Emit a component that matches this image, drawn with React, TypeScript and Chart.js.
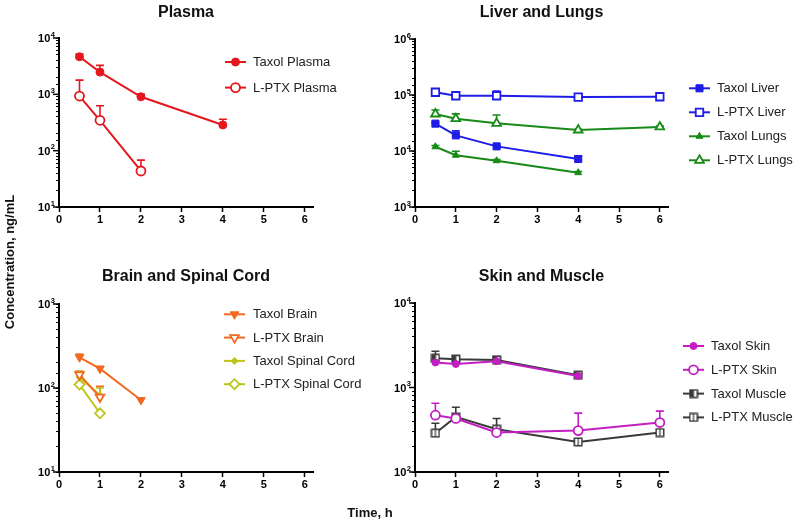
import React, { useEffect, useRef } from 'react';
import { Chart, registerables } from 'chart.js';
import { drawPoint } from 'chart.js/helpers';

Chart.register(...registerables);

const FONT = "'Liberation Sans', Arial, Helvetica, sans-serif";

// ---------- data ----------
const timesAll = [0.5, 1, 2, 4, 6];
const times4 = [0.5, 1, 2, 4];
const times3 = [0.5, 1, 2];
const times2 = [0.5, 1];

const xTicks = [0, 1, 2, 3, 4, 5, 6];
const decadeBase = '10';
const decadeExponents = ['0', '1', '2', '3', '4', '5', '6'];

// Plasma
const taxolPlasma = [4640, 2480, 906, 286];
const taxolPlasmaErr = [5180, 3270, 1010, 361];
const lptxPlasma = [933, 346, 43.6];
const lptxPlasmaErr = [1790, 628, 68];

// Liver and Lungs
const taxolLiver = [30800, 19000, 12100, 7200];
const taxolLiverErr = [32000, 23000, 12800, 8100];
const lptxLiver = [112000, 97000, 97000, 92000, 93000];
const lptxLiverErr = [115000, 100000, 118000, 95000, 96000];
const taxolLungs = [11900, 8400, 6700, 4100];
const taxolLungsErr = [12500, 9900, 7000, 4300];
const lptxLungs = [45800, 37700, 31200, 23700, 26900];
const lptxLungsErr = [54000, 46000, 44000, 24500, 28000];

// Brain and Spinal Cord
const taxolBrain = [232, 170, 72];
const taxolBrainErr = [254, 180, 75];
const lptxBrain = [144, 78];
const lptxBrainErr = [158, 105];
const taxolSpinal = [135, 82];
const taxolSpinalErr = [158, 100];
const lptxSpinal = [110, 50];
const lptxSpinalErr = [115, 52];

// Skin and Muscle
const taxolSkin = [1980, 1900, 2050, 1370];
const taxolSkinErr = [2100, 2000, 2330, 1450];
const lptxSkin = [470, 430, 293, 309, 385];
const lptxSkinErr = [652, 450, 340, 497, 525];
const taxolMuscle = [2220, 2160, 2120, 1400];
const taxolMuscleErr = [2690, 2350, 2300, 1500];
const lptxMuscle = [288, 449, 321, 227, 293];
const lptxMuscleErr = [378, 585, 430, 235, 300];

// ---------- styles ----------
const RED = '#e4171d';
const BLUE = '#1d1de6';
const GREEN = '#178a17';
const ORANGE = '#f26a21';
const YGREEN = '#bcc417';
const MAGENTA = '#c21ec2';
const GRAY = '#3a3a3a';

function makeSquareImage(color: string, half: boolean): HTMLCanvasElement {
  const c = document.createElement('canvas');
  c.width = 10;
  c.height = 10;
  const g = c.getContext('2d')!;
  g.fillStyle = '#fff';
  g.fillRect(1, 1, 8, 8);
  g.fillStyle = color;
  if (half) g.fillRect(1, 1, 4.5, 8);
  else g.fillRect(4.4, 1, 1.2, 8);
  g.strokeStyle = color;
  g.lineWidth = 1.5;
  g.strokeRect(1.25, 1.25, 7.5, 7.5);
  return c;
}

interface Series {
  label: string;
  times: number[];
  values: number[];
  errors: number[];
  color: string;
  pointStyle: any;
  filled: boolean;
  radius: number;
  rotation?: number;
}

interface Panel {
  title: string;
  titleY: number;
  yMin: number;
  yMax: number;
  area: { left: number; top: number; right: number; bottom: number };
  legend: { x: number; y: number; gap: number; textX: number };
  series: () => Series[];
}

const panels: Panel[] = [
  {
    title: 'Plasma',
    titleY: 13,
    yMin: 10,
    yMax: 1e4,
    area: { left: 59, top: 38, right: 313, bottom: 207 },
    legend: { x: 225, y: 62, gap: 25.6, textX: 253 },
    series: () => [
      { label: 'Taxol Plasma', times: times4, values: taxolPlasma, errors: taxolPlasmaErr, color: RED, pointStyle: 'circle', filled: true, radius: 4 },
      { label: 'L-PTX Plasma', times: times3, values: lptxPlasma, errors: lptxPlasmaErr, color: RED, pointStyle: 'circle', filled: false, radius: 4.5 },
    ],
  },
  {
    title: 'Liver and Lungs',
    titleY: 13,
    yMin: 1e3,
    yMax: 1e6,
    area: { left: 415, top: 39, right: 668, bottom: 207 },
    legend: { x: 689, y: 88.3, gap: 24, textX: 717 },
    series: () => [
      { label: 'Taxol Liver', times: times4, values: taxolLiver, errors: taxolLiverErr, color: BLUE, pointStyle: 'rect', filled: true, radius: 5 },
      { label: 'L-PTX Liver', times: timesAll, values: lptxLiver, errors: lptxLiverErr, color: BLUE, pointStyle: 'rect', filled: false, radius: 5.3 },
      { label: 'Taxol Lungs', times: times4, values: taxolLungs, errors: taxolLungsErr, color: GREEN, pointStyle: 'triangle', filled: true, radius: 4 },
      { label: 'L-PTX Lungs', times: timesAll, values: lptxLungs, errors: lptxLungsErr, color: GREEN, pointStyle: 'triangle', filled: false, radius: 5 },
    ],
  },
  {
    title: 'Brain and Spinal Cord',
    titleY: 277,
    yMin: 10,
    yMax: 1e3,
    area: { left: 59, top: 304, right: 313, bottom: 472 },
    legend: { x: 224, y: 314.3, gap: 23.3, textX: 253 },
    series: () => [
      { label: 'Taxol Brain', times: times3, values: taxolBrain, errors: taxolBrainErr, color: ORANGE, pointStyle: 'triangle', filled: true, radius: 5, rotation: 180 },
      { label: 'L-PTX Brain', times: times2, values: lptxBrain, errors: lptxBrainErr, color: ORANGE, pointStyle: 'triangle', filled: false, radius: 5, rotation: 180 },
      { label: 'Taxol Spinal Cord', times: times2, values: taxolSpinal, errors: taxolSpinalErr, color: YGREEN, pointStyle: 'rectRot', filled: true, radius: 3.5 },
      { label: 'L-PTX Spinal Cord', times: times2, values: lptxSpinal, errors: lptxSpinalErr, color: YGREEN, pointStyle: 'rectRot', filled: false, radius: 5 },
    ],
  },
  {
    title: 'Skin and Muscle',
    titleY: 277,
    yMin: 100,
    yMax: 1e4,
    area: { left: 415, top: 303, right: 668, bottom: 472 },
    legend: { x: 683, y: 346, gap: 23.8, textX: 711 },
    series: () => [
      { label: 'Taxol Skin', times: times4, values: taxolSkin, errors: taxolSkinErr, color: MAGENTA, pointStyle: 'circle', filled: true, radius: 3.5 },
      { label: 'L-PTX Skin', times: timesAll, values: lptxSkin, errors: lptxSkinErr, color: MAGENTA, pointStyle: 'circle', filled: false, radius: 4.5 },
      { label: 'Taxol Muscle', times: times4, values: taxolMuscle, errors: taxolMuscleErr, color: GRAY, pointStyle: makeSquareImage(GRAY, true), filled: true, radius: 5 },
      { label: 'L-PTX Muscle', times: timesAll, values: lptxMuscle, errors: lptxMuscleErr, color: GRAY, pointStyle: makeSquareImage(GRAY, false), filled: false, radius: 5 },
    ],
  },
];

const Y_W = 40;
const X_H = 30;

function isDecade(v: number) {
  const e = Math.log10(v);
  return Math.abs(e - Math.round(e)) < 1e-9;
}

const decorPlugin = {
  id: 'panelDecor',
  beforeDatasetsDraw(chart: any) {
    const ctx = chart.ctx;
    const yScale = chart.scales.y;
    chart.data.datasets.forEach((ds: any, di: number) => {
      const meta = chart.getDatasetMeta(di);
      const errs: number[] = ds.errorUpper || [];
      ctx.save();
      ctx.strokeStyle = ds.borderColor;
      ctx.lineWidth = 1.6;
      meta.data.forEach((el: any, j: number) => {
        if (errs[j] == null) return;
        const yTop = yScale.getPixelForValue(errs[j]);
        ctx.beginPath();
        ctx.moveTo(el.x, el.y);
        ctx.lineTo(el.x, yTop);
        ctx.moveTo(el.x - 4, yTop);
        ctx.lineTo(el.x + 4, yTop);
        ctx.stroke();
      });
      ctx.restore();
    });
  },
  afterDraw(chart: any, _args: any, opts: any) {
    const ctx = chart.ctx;
    const area = chart.chartArea;
    const yScale = chart.scales.y;
    ctx.save();
    // major y ticks (longer) and their labels with superscript exponent
    ctx.strokeStyle = '#000';
    ctx.lineWidth = 1.5;
    yScale.ticks.forEach((t: any) => {
      if (!isDecade(t.value)) return;
      const py = yScale.getPixelForValue(t.value);
      ctx.beginPath();
      ctx.moveTo(area.left - 1, py);
      ctx.lineTo(area.left - 6, py);
      ctx.stroke();
      const exp = decadeExponents[Math.round(Math.log10(t.value))];
      const right = area.left - 4;
      ctx.fillStyle = '#000';
      ctx.textAlign = 'right';
      ctx.textBaseline = 'middle';
      ctx.font = `bold 7.5px ${FONT}`;
      const ew = ctx.measureText(exp).width;
      ctx.fillText(exp, right, py - 3.5);
      ctx.font = `bold 11px ${FONT}`;
      ctx.fillText(decadeBase, right - ew - 0.5, py + 1);
    });
    // title
    ctx.fillStyle = '#111';
    ctx.font = `bold 16px ${FONT}`;
    ctx.textAlign = 'center';
    ctx.textBaseline = 'middle';
    ctx.fillText(opts.title, (area.left + area.right) / 2, opts.titleY);
    // legend
    const lg = opts.legend;
    chart.data.datasets.forEach((ds: any, di: number) => {
      const y = lg.y + di * lg.gap;
      const meta = chart.getDatasetMeta(di);
      const el = meta.data[0];
      const o = el.options;
      ctx.strokeStyle = ds.borderColor;
      ctx.lineWidth = ds.borderWidth;
      ctx.beginPath();
      ctx.moveTo(lg.x, y);
      ctx.lineTo(lg.x + 21, y);
      ctx.stroke();
      ctx.fillStyle = o.backgroundColor;
      ctx.strokeStyle = o.borderColor;
      ctx.lineWidth = o.borderWidth;
      drawPoint(ctx, { pointStyle: o.pointStyle, rotation: o.rotation, radius: o.radius, borderWidth: o.borderWidth } as any, lg.x + 10.5, y);
      ctx.fillStyle = '#222';
      ctx.font = `13px ${FONT}`;
      ctx.textAlign = 'left';
      ctx.textBaseline = 'middle';
      ctx.fillText(ds.label, lg.textX, y + 0.5);
    });
    ctx.restore();
  },
};

function buildConfig(p: Panel): any {
  const series = p.series();
  return {
    type: 'line',
    data: {
      datasets: series.map((s) => ({
        label: s.label,
        data: s.times.map((t, i) => ({ x: t, y: s.values[i] })),
        errorUpper: s.errors,
        borderColor: s.color,
        backgroundColor: s.filled ? s.color : '#ffffff',
        borderWidth: 2,
        pointStyle: s.pointStyle,
        pointRadius: s.radius,
        pointRotation: s.rotation || 0,
        pointBorderColor: s.color,
        pointBackgroundColor: s.filled ? s.color : '#ffffff',
        pointBorderWidth: s.filled ? 1 : 1.8,
        tension: 0,
        fill: false,
        clip: false,
      })),
    },
    options: {
      responsive: false,
      animation: false,
      layout: {
        padding: {
          left: p.area.left - Y_W,
          top: p.area.top,
          right: 800 - p.area.right,
          bottom: 522 - p.area.bottom - X_H,
        },
      },
      plugins: {
        legend: { display: false },
        title: { display: false },
        tooltip: { enabled: false },
        panelDecor: { title: p.title, titleY: p.titleY, legend: p.legend },
      },
      scales: {
        x: {
          type: 'linear',
          min: xTicks[0],
          max: 6.2,
          afterFit: (s: any) => { s.height = X_H; },
          afterBuildTicks: (s: any) => { s.ticks = xTicks.map((v) => ({ value: v })); },
          ticks: {
            stepSize: 1,
            includeBounds: false,
            maxRotation: 0,
            autoSkip: false,
            padding: 1,
            color: '#000',
            font: { family: FONT, size: 11, weight: 'bold' },
          },
          grid: {
            display: true,
            drawOnChartArea: false,
            drawTicks: true,
            tickLength: 5,
            tickColor: '#000',
            tickWidth: 1.5,
          },
          border: { display: true, color: '#000', width: 2 },
        },
        y: {
          type: 'logarithmic',
          min: p.yMin,
          max: p.yMax,
          afterFit: (s: any) => { s.width = Y_W; },
          ticks: {
            autoSkip: false,
            padding: 2,
            color: '#000',
            font: { family: FONT, size: 11, weight: 'bold' },
            callback: () => '',
          },
          grid: {
            display: true,
            drawOnChartArea: false,
            drawTicks: true,
            tickLength: 3,
            tickColor: '#000',
            tickWidth: 1.2,
          },
          border: { display: true, color: '#000', width: 2 },
        },
      },
    },
    plugins: [decorPlugin],
  };
}

export default function App() {
  const refs = useRef<(HTMLCanvasElement | null)[]>([]);
  useEffect(() => {
    const charts = panels.map((p, i) => new Chart(refs.current[i] as HTMLCanvasElement, buildConfig(p)));
    return () => charts.forEach((c) => c.destroy());
  }, []);
  return (
    <div style={{ position: 'absolute', left: 0, top: 0, width: 800, height: 522, background: '#fff', overflow: 'hidden' }}>
      {panels.map((p, i) => (
        <canvas
          key={p.title}
          ref={(el) => { refs.current[i] = el; }}
          width={800}
          height={522}
          style={{ position: 'absolute', left: 0, top: 0, width: 800, height: 522 }}
        />
      ))}
      <div
        style={{
          position: 'absolute', left: 10 - 110, top: 262 - 8, width: 220, height: 16, lineHeight: '16px',
          textAlign: 'center', transform: 'rotate(-90deg)', transformOrigin: '50% 50%',
          font: `bold 13px ${FONT}`, color: '#111', whiteSpace: 'nowrap',
        }}
      >
        Concentration, ng/mL
      </div>
      <div
        style={{
          position: 'absolute', left: 370 - 60, top: 513 - 8, width: 120, height: 16, lineHeight: '16px',
          textAlign: 'center', font: `bold 13px ${FONT}`, color: '#111', whiteSpace: 'nowrap',
        }}
      >
        Time, h
      </div>
    </div>
  );
}
